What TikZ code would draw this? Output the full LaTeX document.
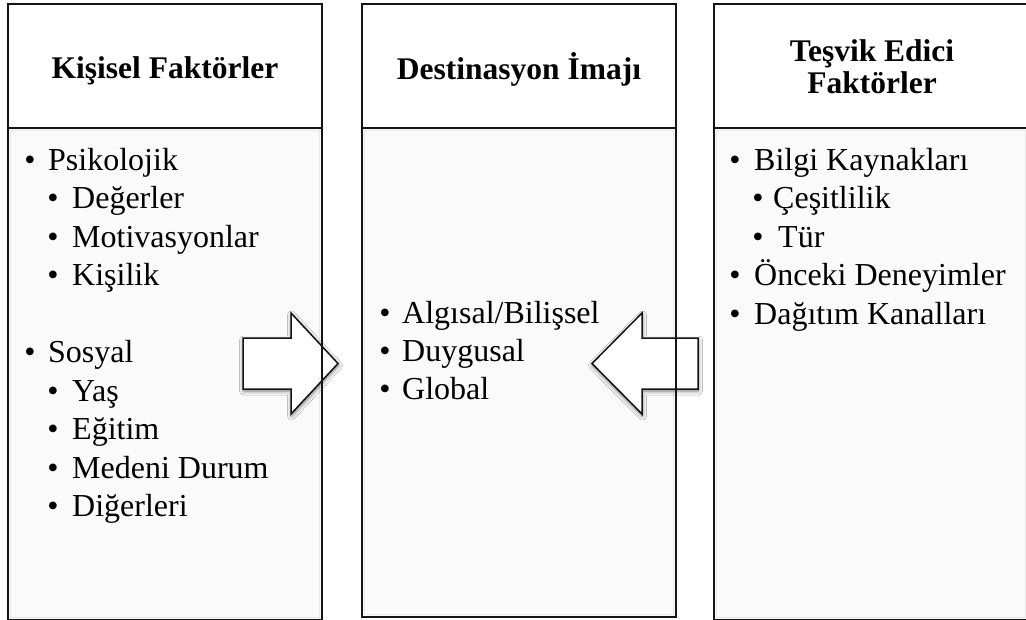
\documentclass[tikz,border=0pt]{standalone}
\usepackage{fontspec}
\setmainfont{Liberation Serif}
\usetikzlibrary{shadows.blur}

\definecolor{panelfill}{RGB}{250,250,250}
\definecolor{panelrim}{RGB}{232,232,232}
\definecolor{inkline}{RGB}{20,20,20}

% one bulleted line: name, bullet x, text x, baseline y, text
\newcommand{\listline}[5]{%
  \node[bdot] (#1-b) at (#2,#4) {\textbullet};
  \node[btext] (#1) at (#3,#4) {#5};}

\begin{document}
\begin{tikzpicture}[x=1pt,y=-1pt,
  panel/.style={fill=panelfill, minimum width=314pt, inner sep=0pt, outer sep=0pt},
  headbox/.style={fill=white, minimum width=314pt, minimum height=124pt, inner sep=0pt, outer sep=0pt},
  rim/.style={draw=inkline, line width=1.8pt},
  innerrim/.style={draw=panelrim, line width=1.2pt},
  htext/.style={font=\bfseries\fontsize{31.5}{32}\selectfont, anchor=base, inner sep=0pt},
  btext/.style={font=\fontsize{32}{38.5}\selectfont, anchor=base west, inner sep=0pt},
  bdot/.style={font=\fontsize{32}{38.5}\selectfont, anchor=base, inner sep=0pt},
  blockarrow/.style={draw=inkline, line width=1.5pt, fill=white, line join=miter,
    blur shadow={shadow xshift=0.5pt, shadow yshift=-2pt, shadow blur radius=4pt, shadow opacity=55}}
]
\useasboundingbox (0,0) rectangle (1026,619);
\clip (0,0) rectangle (1026,619);
\fill[white] (0,0) rectangle (1026,619);

% column headers
\node[headbox] (h1) at (165,66) {};
\node[headbox] (h2) at (519,66) {};
\node[headbox] (h3) at (871,66) {};

% column bodies
\node[panel, minimum height=492pt] (p1) at (165,374) {};
\node[panel, minimum height=489pt] (p2) at (519,372.5) {};
\node[panel, minimum height=492pt] (p3) at (871,374) {};
\foreach \p in {p1,p2,p3}
  \draw[innerrim] ([shift={(2.5,2.5)}]\p.north west) rectangle ([shift={(-2.5,-2.5)}]\p.south east);

% block arrows pointing into the middle column
\draw[blockarrow] (243,338) -- (291,338) -- (291,313) -- (338,363.5) -- (291,414) -- (291,389) -- (243,389) -- cycle;
\draw[blockarrow] (698,338) -- (642,338) -- (642,313) -- (592,363.5) -- (642,414) -- (642,389) -- (698,389) -- cycle;

% outlines over the arrows
\foreach \p in {h1,h2,h3,p1,p2,p3}
  \draw[rim] (\p.north west) rectangle (\p.south east);

% header texts
\node[htext] (t1) at (165,78) {Kişisel Faktörler};
\node[htext] (t2) at (519,79) {Destinasyon İmajı};
\node[htext] (t3a) at (872,61) {Teşvik Edici};
\node[htext] (t3b) at (872,93) {Faktörler};

% left column
\listline{a1}{30}{48}{170}{Psikolojik}
\listline{a2}{53}{72}{208.5}{Değerler}
\listline{a3}{53}{72}{247}{Motivasyonlar}
\listline{a4}{53}{72}{285.5}{Kişilik}
\listline{a5}{30}{48}{362.5}{Sosyal}
\listline{a6}{53}{72}{401}{Yaş}
\listline{a7}{53}{72}{439.5}{Eğitim}
\listline{a8}{53}{72}{478}{Medeni Durum}
\listline{a9}{53}{72}{516.5}{Diğerleri}

% middle column
\listline{m1}{385}{402}{323}{Algısal/Bilişsel}
\listline{m2}{385}{402}{361.5}{Duygusal}
\listline{m3}{385}{402}{399.5}{Global}

% right column
\listline{r1}{735}{754}{170}{Bilgi Kaynakları}
\listline{r2}{758}{773}{208.5}{Çeşitlilik}
\listline{r3}{758}{778}{247}{Tür}
\listline{r4}{735}{754}{285.5}{Önceki Deneyimler}
\listline{r5}{735}{754}{324}{Dağıtım Kanalları}
\end{tikzpicture}
\end{document}
